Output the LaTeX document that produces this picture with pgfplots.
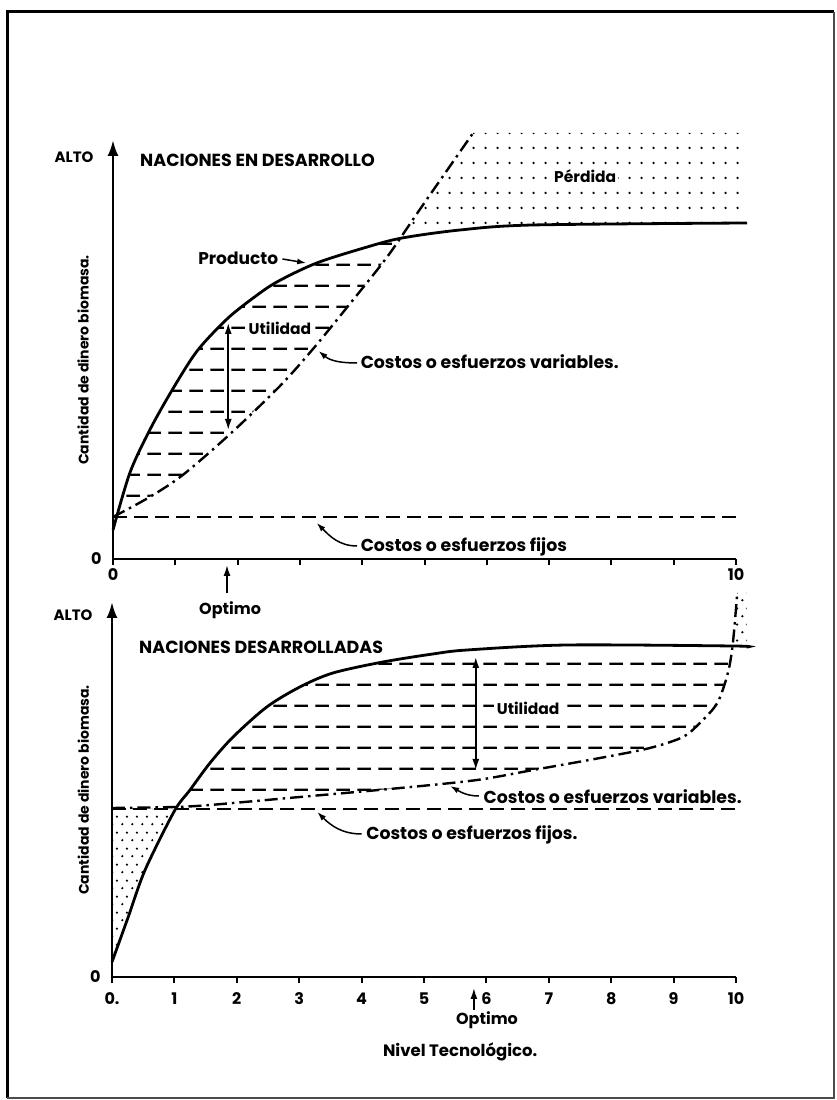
\documentclass[border=0pt]{standalone}
\usepackage{fontspec}
\setmainfont{Poppins}
\usepackage{pgfplots}
\usepackage{pgfplotstable}
\pgfplotsset{compat=1.18}
\usetikzlibrary{patterns,arrows.meta}

\newcommand\fs[1]{\fontsize{#1}{#1}\selectfont\bfseries}

\pgfdeclarepatternformonly{hdash}{\pgfpoint{0pt}{0pt}}{\pgfpoint{21pt}{21pt}}{\pgfpoint{21pt}{21pt}}{%
  \pgfsetlinewidth{2.3pt}%
  \pgfpathmoveto{\pgfpoint{0.5pt}{17pt}}\pgfpathlineto{\pgfpoint{14.5pt}{17pt}}\pgfusepath{stroke}}
\pgfdeclarepatternformonly{sparsedots}{\pgfpoint{0pt}{0pt}}{\pgfpoint{12pt}{15pt}}{\pgfpoint{12pt}{15pt}}{%
  \pgfpathcircle{\pgfpoint{6pt}{7.5pt}}{1.4pt}\pgfusepath{fill}}
\pgfdeclarepatternformonly{densedots}{\pgfpoint{0pt}{0pt}}{\pgfpoint{10pt}{16pt}}{\pgfpoint{10pt}{16pt}}{%
  \pgfpathcircle{\pgfpoint{2.5pt}{4pt}}{1.3pt}\pgfusepath{fill}%
  \pgfpathcircle{\pgfpoint{7.5pt}{12pt}}{1.3pt}\pgfusepath{fill}}

% ---------- data: top panel (Naciones en desarrollo) ----------
\pgfplotstableread{
x y
0 29
0.27 86
0.59 129
0.95 169
1.35 208
1.83 240
2.25 261
2.63 277
3.27 296
4.08 312
4.64 321
5.57 329
6.74 334
10.18 336
}\prodA
\pgfplotstableread{
x y
0 42
0.59 62
1.12 84
1.88 125
2.68 173
3.21 210
3.80 255
4.40 302
4.93 350
5.78 426
}\varA
\pgfplotstableread{
x y
0 42
10.06 42
}\fixA
% utility region (between product and variable cost) and loss region
\pgfplotstableread{
x y
0 29
0.27 86
0.59 129
0.95 169
1.35 208
1.83 240
2.25 261
2.63 277
3.27 296
4.08 312
4.64 321
4.40 302
3.80 255
3.21 210
2.68 173
1.88 125
1.12 84
0.59 62
0 42
}\utilA
\pgfplotstableread{
x y
4.64 321
5.57 329
6.74 334
10.18 336
10.18 426
5.78 426
4.93 350
}\lossA
% ---------- data: bottom panel (Naciones desarrolladas) ----------
\pgfplotstableread{
x y
0 15
0.26 60
0.53 107
1.00 166
1.25 187
1.57 214
1.94 240
2.48 270
3.01 290
3.54 304
4.34 315
5.14 323
5.69 327
7.29 332
9.95 331
10.17 330
}\prodB
\pgfplotstableread{
x y
0 169
1.00 170
1.57 172
3.01 180
4.62 189
5.85 197
6.75 207
7.82 219
8.62 229
9.15 240
9.42 254
9.70 274
9.87 304
9.95 334
10.02 384
}\varB
\pgfplotstableread{
x y
0 168
10 168
}\fixB
\pgfplotstableread{
x y
1.00 169
1.25 187
1.57 214
1.94 240
2.48 270
3.01 290
3.54 304
4.34 315
5.14 323
5.69 327
7.29 332
9.94 331
9.87 304
9.70 274
9.42 254
9.15 240
8.62 229
7.82 219
6.75 207
5.85 197
4.62 189
3.01 180
1.57 172
}\utilB
\pgfplotstableread{
x y
0 168
1.00 168
0.53 107
0.26 60
0 15
}\lossBa
\pgfplotstableread{
x y
9.94 331
10.17 330
10.17 384
10.02 384
9.95 334
}\lossBb

\tikzset{
  prod/.style={line width=2.8pt, black},
  var/.style={line width=2.4pt, black, dash pattern=on 13pt off 5pt on 2.5pt off 5pt},
  fix/.style={line width=2.6pt, black, dash pattern=on 14pt off 7pt},
  ptr/.style={line width=1.5pt, -{Latex[length=9pt,width=6pt]}},
  dbl/.style={line width=1.6pt, {Latex[length=11pt,width=7pt]}-{Latex[length=11pt,width=7pt]}},
}
\pgfplotsset{
  myaxis/.style={
    scale only axis, axis lines=left, clip=false,
    xmin=0, xmax=10, ymin=0,
    axis line style={line width=2.6pt, black},
    x axis line style={-},
    y axis line style={-{Latex[length=16pt,width=11pt]}},
    xtick={0,...,10}, ytick=\empty,
    tick align=outside, major tick length=6pt,
    every tick/.style={line width=2pt, black},
    tick label style={font=\fs{16}},
    /pgf/number format/assume math mode=true,
  },
}

\begin{document}
\begin{tikzpicture}
\useasboundingbox (0pt,0pt) rectangle (837pt,1100pt);
\fill[white] (0pt,0pt) rectangle (837pt,1100pt);
% frame
\draw[line width=3pt] (7pt,2pt) -- (7pt,1088pt) -- (834pt,1088pt);
\draw[line width=1.2pt, black!70] (834pt,1088pt) -- (834pt,2pt) -- (7pt,2pt);

% ================= TOP PANEL =================
\begin{axis}[myaxis, at={(113pt,541pt)}, anchor=south west,
  width=623pt, height=419pt, ymax=419,
  xticklabels={0,,,,,,,,,,10}]
\addplot[draw=none, pattern=hdash] table {\utilA} -- cycle;
\addplot[draw=none, pattern=sparsedots] table {\lossA} -- cycle;
\addplot[prod, smooth] table {\prodA};
\addplot[var, smooth] table {\varA};
\addplot[fix] table {\fixA};

\node[font=\fs{16}, anchor=east, xshift=-8pt] at (axis cs:0,0) {0};
\node[font=\fs{15}, anchor=east, xshift=-16pt] at (axis cs:0,402) {ALTO};
\node[font=\fs{17.5}, anchor=west] at (axis cs:0.38,399) {NACIONES EN DESARROLLO};
\node[font=\fs{14}, rotate=90] at (axis cs:-0.48,199) {Cantidad de dinero biomasa.};
\node[font=\fs{17}] at (axis cs:2.01,301) {Producto};
\draw[ptr] (axis cs:2.72,300) -- (axis cs:3.10,296);
\node[font=\fs{15.5}, fill=white, inner sep=2.5pt] at (axis cs:2.68,231) {Utilidad};
\draw[dbl] (axis cs:1.85,236) -- (axis cs:1.85,129);
\node[font=\fs{17.3}, anchor=west] at (axis cs:3.92,197) {Costos o esfuerzos variables.};
\draw[ptr] (axis cs:3.92,196) to[out=180,in=-40] (axis cs:3.30,208);
\node[font=\fs{17.3}, anchor=west] at (axis cs:3.92,12) {Costos o esfuerzos fijos};
\draw[ptr] (axis cs:3.92,13) to[out=180,in=-45] (axis cs:3.27,36);
\node[font=\fs{15.5}, fill=white, inner sep=2pt] at (axis cs:7.58,383) {Pérdida};
\draw[line width=1.6pt, -{Latex[length=11pt,width=7pt]}] (axis cs:1.83,-34) -- (axis cs:1.83,-6);
\node[font=\fs{16}] at (axis cs:1.88,-51) {Optimo};
\end{axis}

% ================= BOTTOM PANEL =================
\begin{axis}[myaxis, at={(112pt,123pt)}, anchor=south west,
  width=624pt, height=375pt, ymax=375,
  xticklabel style={yshift=-6pt},
  xticklabels={0.,1,2,3,4,5,6,7,8,9,10}]
\addplot[draw=none, pattern=hdash] table {\utilB} -- cycle;
\addplot[draw=none, pattern=densedots] table {\lossBa} -- cycle;
\addplot[draw=none, pattern=densedots] table {\lossBb} -- cycle;
\addplot[prod, smooth] table {\prodB};
\addplot[var, smooth] table {\varB};
\addplot[fix] table {\fixB};

\node[font=\fs{16}, anchor=east, xshift=-8pt] at (axis cs:0,0) {0};
\node[font=\fs{15}, anchor=east, xshift=-16pt] at (axis cs:0,362) {ALTO};
\node[font=\fs{17.5}, anchor=west] at (axis cs:0.38,330) {NACIONES DESARROLLADAS};
\node[font=\fs{14}, rotate=90] at (axis cs:-0.46,187) {Cantidad de dinero biomasa.};
\node[font=\fs{15.5}, fill=white, inner sep=2.5pt] at (axis cs:6.67,269) {Utilidad};
\draw[dbl] (axis cs:5.83,320) -- (axis cs:5.83,207);
\node[font=\fs{17.3}, anchor=west] at (axis cs:5.90,180) {Costos o esfuerzos variables.};
\draw[ptr] (axis cs:5.88,181) to[out=180,in=-30] (axis cs:5.42,191);
\node[font=\fs{17.3}, anchor=west] at (axis cs:4.02,142) {Costos o esfuerzos fijos.};
\draw[ptr] (axis cs:4.00,143) to[out=180,in=-45] (axis cs:3.29,165);
\draw[line width=1.6pt, -{Latex[length=11pt,width=7pt]}] (axis cs:5.80,-33) -- (axis cs:5.80,-11);
\node[font=\fs{16}] at (axis cs:6.01,-43) {Optimo};
\node[font=\fs{16.5}] at (axis cs:5.58,-75) {Nivel Tecnológico.};
\end{axis}
\end{tikzpicture}
\end{document}
